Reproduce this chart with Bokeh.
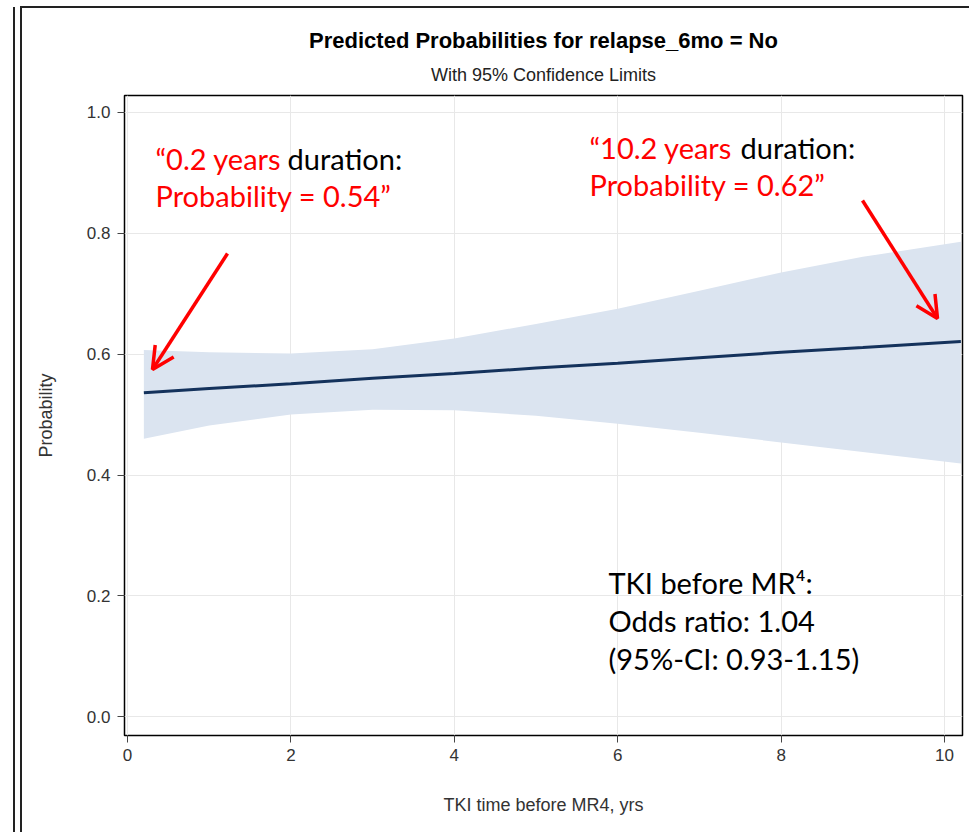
from bokeh.plotting import figure
from bokeh.models import Range1d, Label, Arrow, OpenHead, FixedTicker, Title
from bokeh.embed import file_html
from bokeh.resources import INLINE

# ---- data ----
tki_years = [0.2, 1, 2, 3, 4, 5, 6, 7, 8, 9, 10.2]
pred_prob = [0.536, 0.543, 0.551, 0.560, 0.568, 0.577, 0.585, 0.594, 0.603, 0.611, 0.621]
upper_cl = [0.607, 0.603, 0.601, 0.608, 0.626, 0.650, 0.675, 0.705, 0.735, 0.761, 0.786]
lower_cl = [0.460, 0.482, 0.500, 0.508, 0.507, 0.498, 0.485, 0.470, 0.454, 0.438, 0.419]
x_ticks = [0, 2, 4, 6, 8, 10]
y_ticks = [0.0, 0.2, 0.4, 0.6, 0.8, 1.0]
y_tick_labels = {0.0: "0.0", 0.2: "0.2", 0.4: "0.4", 0.6: "0.6", 0.8: "0.8", 1.0: "1.0"}

W, H = 969, 832
FL, FR, FT, FB = 124, 962, 95, 735  # frame edges in canvas px
X0, X1 = -0.037, 10.22
Y0, Y1 = -0.031, 1.028

def dx(px):
    return X0 + (px - FL) / (FR - FL) * (X1 - X0)

def dy(py):
    return Y0 + (FB - py) / (FB - FT) * (Y1 - Y0)

p = figure(width=W, height=H, output_backend="svg", toolbar_location=None,
           title="Predicted Probabilities for relapse_6mo = No",
           x_range=Range1d(X0, X1), y_range=Range1d(Y0, Y1),
           min_border_left=FL, min_border_right=W - FR,
           min_border_top=FT, min_border_bottom=H - FB)

# outer picture frame lines drawn as CSS background behind a transparent border area
p.border_fill_color = "white"
p.border_fill_alpha = 0.0
p.styles = {
    "background": ("linear-gradient(#222,#222) 13px 7px / 2px 825px no-repeat, "
                   "linear-gradient(#222,#222) 20px 7px / 2px 825px no-repeat, "
                   "linear-gradient(#222,#222) 20px 6px / 949px 2px no-repeat, "
                   "white")
}
p.background_fill_color = "white"
p.outline_line_color = "black"
p.outline_line_width = 1.5

p.varea(x=tki_years, y1=lower_cl, y2=upper_cl, fill_color="#dbe4f0", fill_alpha=1.0)
p.line(x=tki_years, y=pred_prob, line_color="#14325c", line_width=3)

FONT = "Liberation Sans"
for ax in (p.xaxis[0], p.yaxis[0]):
    ax.axis_line_color = None
    ax.major_tick_line_color = "#444444"
    ax.major_tick_out = 7
    ax.major_tick_in = 0
    ax.minor_tick_line_color = None
    ax.major_label_text_font = FONT
    ax.major_label_text_font_size = "17px"
    ax.major_label_text_color = "#333333"
    ax.axis_label_text_font = FONT
    ax.axis_label_text_font_size = "18px"
    ax.axis_label_text_font_style = "normal"
    ax.axis_label_text_color = "#333333"

p.xaxis.ticker = FixedTicker(ticks=x_ticks)
p.yaxis.ticker = FixedTicker(ticks=y_ticks)
p.yaxis.major_label_overrides = y_tick_labels
p.xaxis.axis_label = "TKI time before MR4, yrs"
p.yaxis.axis_label = "Probability"
p.xaxis.major_label_standoff = 6
p.yaxis.major_label_standoff = 7
p.xaxis.axis_label_standoff = 31
p.yaxis.axis_label_standoff = 28

p.xgrid.grid_line_color = "#e8e8e8"
p.ygrid.grid_line_color = "#e8e8e8"
p.xgrid.ticker = FixedTicker(ticks=x_ticks)
p.ygrid.ticker = FixedTicker(ticks=y_ticks)

# titles
p.title.align = "center"
p.title.text_font = FONT
p.title.text_font_size = "22px"
p.title.text_font_style = "bold"
p.title.text_color = "black"
p.title.standoff = 0
p.add_layout(Title(text="With 95% Confidence Limits", align="center",
                   text_font=FONT, text_font_size="18px", text_font_style="normal",
                   text_color="#222222", standoff=21), "above")

# annotations
ann_font = "Lato"
ann_size = "29px"
RED = "#ff0000"

def txt(px, py, s, color):
    p.add_layout(Label(x=dx(px), y=dy(py), text=s, text_align="left",
                       text_baseline="alphabetic", text_font=ann_font,
                       text_font_size=ann_size, text_color=color))

txt(155, 158, "\u201c0.2 years", RED)
txt(287, 158, "duration:", "black")
txt(155, 195, "Probability = 0.54\u201d", RED)

txt(589, 147, "\u201c10.2 years", RED)
txt(740, 147, "duration:", "black")
txt(589, 184, "Probability = 0.62\u201d", RED)

txt(608, 582, "TKI before MR\u2074:", "black")
txt(608, 620, "Odds ratio: 1.04", "black")
txt(608, 658, "(95%-CI: 0.93-1.15)", "black")

# arrows
for (sx, sy, ex, ey) in [(227, 253, 152, 369), (862, 200, 937, 318)]:
    p.add_layout(Arrow(x_start=dx(sx), y_start=dy(sy), x_end=dx(ex), y_end=dy(ey),
                       line_color=RED, line_width=3.5,
                       end=OpenHead(line_color=RED, line_width=3.5, size=22)))

open("out.html", "w").write(file_html(p, INLINE))
